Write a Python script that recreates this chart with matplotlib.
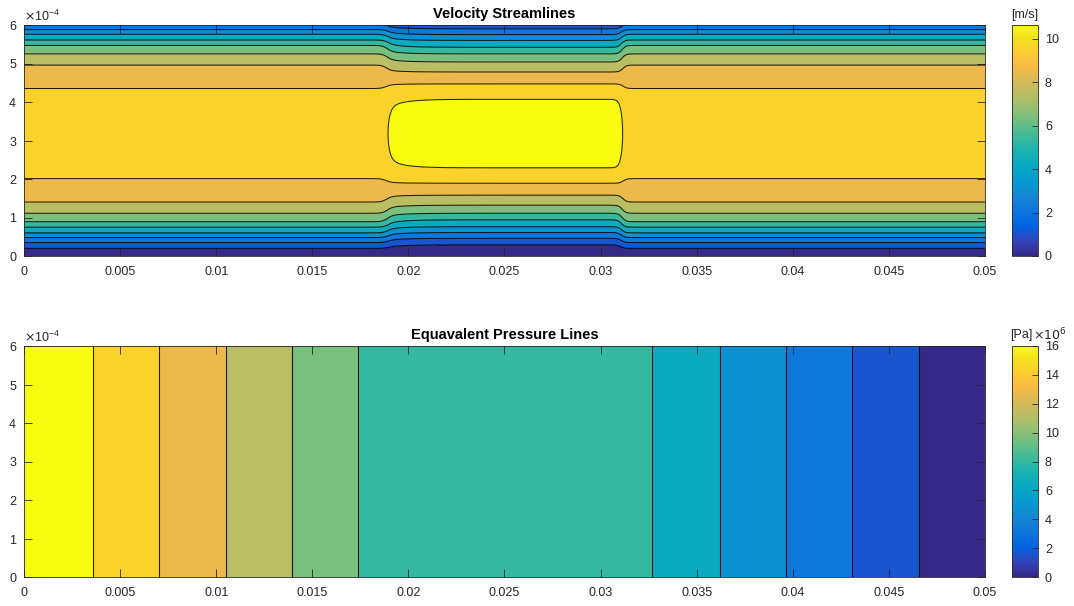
import numpy as np
import matplotlib
matplotlib.use('Agg')
import matplotlib.pyplot as plt
from matplotlib.colors import LinearSegmentedColormap, Normalize
from matplotlib.cm import ScalarMappable
from matplotlib.ticker import FuncFormatter, MultipleLocator

plt.rcParams['font.family'] = ['Liberation Sans', 'DejaVu Sans']

# parula anchors (MATLAB default colormap)
parula_rgb = [
    (0.2081, 0.1663, 0.5292), (0.1959, 0.2645, 0.7279), (0.0117, 0.3875, 0.8820),
    (0.0498, 0.4586, 0.8641), (0.0793, 0.5200, 0.8312), (0.0343, 0.5966, 0.8199),
    (0.0228, 0.6535, 0.7768), (0.0843, 0.6928, 0.7062), (0.2178, 0.7250, 0.6193),
    (0.3953, 0.7459, 0.5244), (0.5709, 0.7485, 0.4494), (0.7184, 0.7411, 0.3905),
    (0.8507, 0.7299, 0.3360), (0.9739, 0.7314, 0.2666), (0.9880, 0.8066, 0.1794),
    (0.9589, 0.8949, 0.1132), (0.9763, 0.9831, 0.0538),
]
parula_pos = [0, 4, 8, 12, 16, 20, 24, 28, 32, 36, 40, 44, 48, 52, 56, 60, 63]
parula = LinearSegmentedColormap.from_list(
    'parula', [(p / 63, c) for p, c in zip(parula_pos, parula_rgb)])

# --- velocity: contour line heights measured from the wall (units of 1e-4 m)
channel_height = 6.36e-4
wall_dist_inlet = [0, 0.20, 0.35, 0.48, 0.60, 0.75, 0.89, 1.11, 1.40, 2.01, 3.18]
speed_inlet = [0, 1, 2, 3, 4, 5, 6, 7, 8, 9, 9.6]
wall_dist_mid = [0, 0.29, 0.46, 0.61, 0.76, 0.94, 1.11, 1.32, 1.58, 1.89, 2.29, 3.18]
speed_mid = [0, 1, 2, 3, 4, 5, 6, 7, 8, 9, 10, 10.64]
mid_start, mid_end = 0.0189, 0.0311
speed_levels = [0, 1, 2, 3, 4, 5, 6, 7, 8, 9, 10, 10.7]
speed_max = 10.64

# --- pressure: x position of each pressure line and its value [Pa x 1e6]
pressure_x = [0, 0.00357, 0.00703, 0.0105, 0.01395, 0.01738,
              0.03271, 0.03619, 0.03964, 0.0431, 0.04657, 0.05]
pressure_val = [16.0, 14.55, 13.09, 11.64, 10.18, 8.73, 7.27, 5.82, 4.36, 2.91, 1.45, 0.0]
pressure_levels = [0.0, 1.45, 2.91, 4.36, 5.82, 7.27, 8.73, 10.18, 11.64, 13.09, 14.55, 16.1]
pressure_max = 16.0

x = np.linspace(0, 0.05, 1601)
y = np.linspace(0, 6e-4, 401)
X, Y = np.meshgrid(x, y)


def across(dist):
    # smooth coordinate across the channel (flat at the centre line)
    half = channel_height / 2
    return 1 - ((half - np.asarray(dist)) / half) ** 2


# velocity field: blend of inlet profile and mid-section profile
d = np.minimum(Y, channel_height - Y)
u_in = np.interp(across(d), across(np.array(wall_dist_inlet) * 1e-4), speed_inlet)
u_mid = np.interp(across(d), across(np.array(wall_dist_mid) * 1e-4), speed_mid)
ramp_in = 1 / (1 + np.exp(-(X - mid_start) / 0.00013))
ramp_in *= 1 - 0.35 * np.exp(-np.clip(X - mid_start, 0, None) / 0.0009)
ramp_out = 1 / (1 + np.exp((X - mid_end) / 0.0001))
U = u_in + ramp_in * ramp_out * (u_mid - u_in)

P = np.interp(X, pressure_x, pressure_val) * 1e6

band_cols = [parula(k / 10) for k in range(11)]

fig = plt.figure(figsize=(10.74, 6.06), dpi=100)
W, H = 1074, 606
ax1 = fig.add_axes([24 / W, (H - 256) / H, 961 / W, 231 / H])
ax2 = fig.add_axes([24 / W, (H - 577) / H, 961 / W, 231 / H])
cax1 = fig.add_axes([1012 / W, (H - 256) / H, 26 / W, 231 / H])
cax2 = fig.add_axes([1012 / W, (H - 577) / H, 26 / W, 231 / H])

dark = (0.15, 0.15, 0.15)

ax1.contourf(X, Y, U, levels=speed_levels, colors=band_cols)
ax1.contour(X, Y, U, levels=speed_levels[1:-1], colors='k', linewidths=0.75, alpha=0.85)
ax1.set_title('Velocity Streamlines', fontsize=10.5, fontweight='bold', pad=5)

plev = np.array(pressure_levels) * 1e6
ax2.contourf(X, Y, P, levels=plev, colors=band_cols)
ax2.contour(X, Y, P, levels=plev[1:-1], colors='k', linewidths=0.8, alpha=0.85)
ax2.set_title('Equavalent Pressure Lines', fontsize=10.5, fontweight='bold', pad=5)

for ax in (ax1, ax2):
    ax.set_xlim(0, 0.05)
    ax.set_ylim(0, 6e-4)
    ax.xaxis.set_major_locator(MultipleLocator(0.005))
    ax.yaxis.set_major_locator(MultipleLocator(1e-4))
    ax.xaxis.set_major_formatter(FuncFormatter(lambda v, p: f'{v:g}'))
    ax.ticklabel_format(axis='y', style='sci', scilimits=(-4, -4), useMathText=True)
    ax.yaxis.get_offset_text().set_fontsize(9)
    ax.yaxis.get_offset_text().set_color(dark)
    ax.tick_params(direction='in', top=True, right=True, length=6, width=0.6,
                   color=dark, labelcolor=dark, labelsize=9, pad=5)
    ax.tick_params(axis='x', pad=7)
    for s in ax.spines.values():
        s.set_color(dark)
        s.set_linewidth(0.6)

cb1 = fig.colorbar(ScalarMappable(Normalize(0, speed_max), parula), cax=cax1)
cb1.set_ticks([0, 2, 4, 6, 8, 10])
cb2 = fig.colorbar(ScalarMappable(Normalize(0, pressure_max), parula), cax=cax2)
cb2.set_ticks(range(0, 17, 2))
for cb in (cb1, cb2):
    cb.ax.tick_params(direction='in', length=4, width=0.6, color=dark,
                      labelcolor=dark, labelsize=9, pad=5)
    cb.outline.set_edgecolor(dark)
    cb.outline.set_linewidth(0.6)

fig.text(1025 / W, 1 - 15 / H, '[m/s]', fontsize=9, color=dark, ha='center', va='center')
fig.text(1021 / W, 1 - 335 / H, '[Pa]', fontsize=9, color=dark, ha='center', va='center')
fig.text(1033 / W, 1 - 335 / H, r'$\times10^{6}$', fontsize=9, color=dark, ha='left', va='center')

fig.savefig('out.png', dpi=100)
